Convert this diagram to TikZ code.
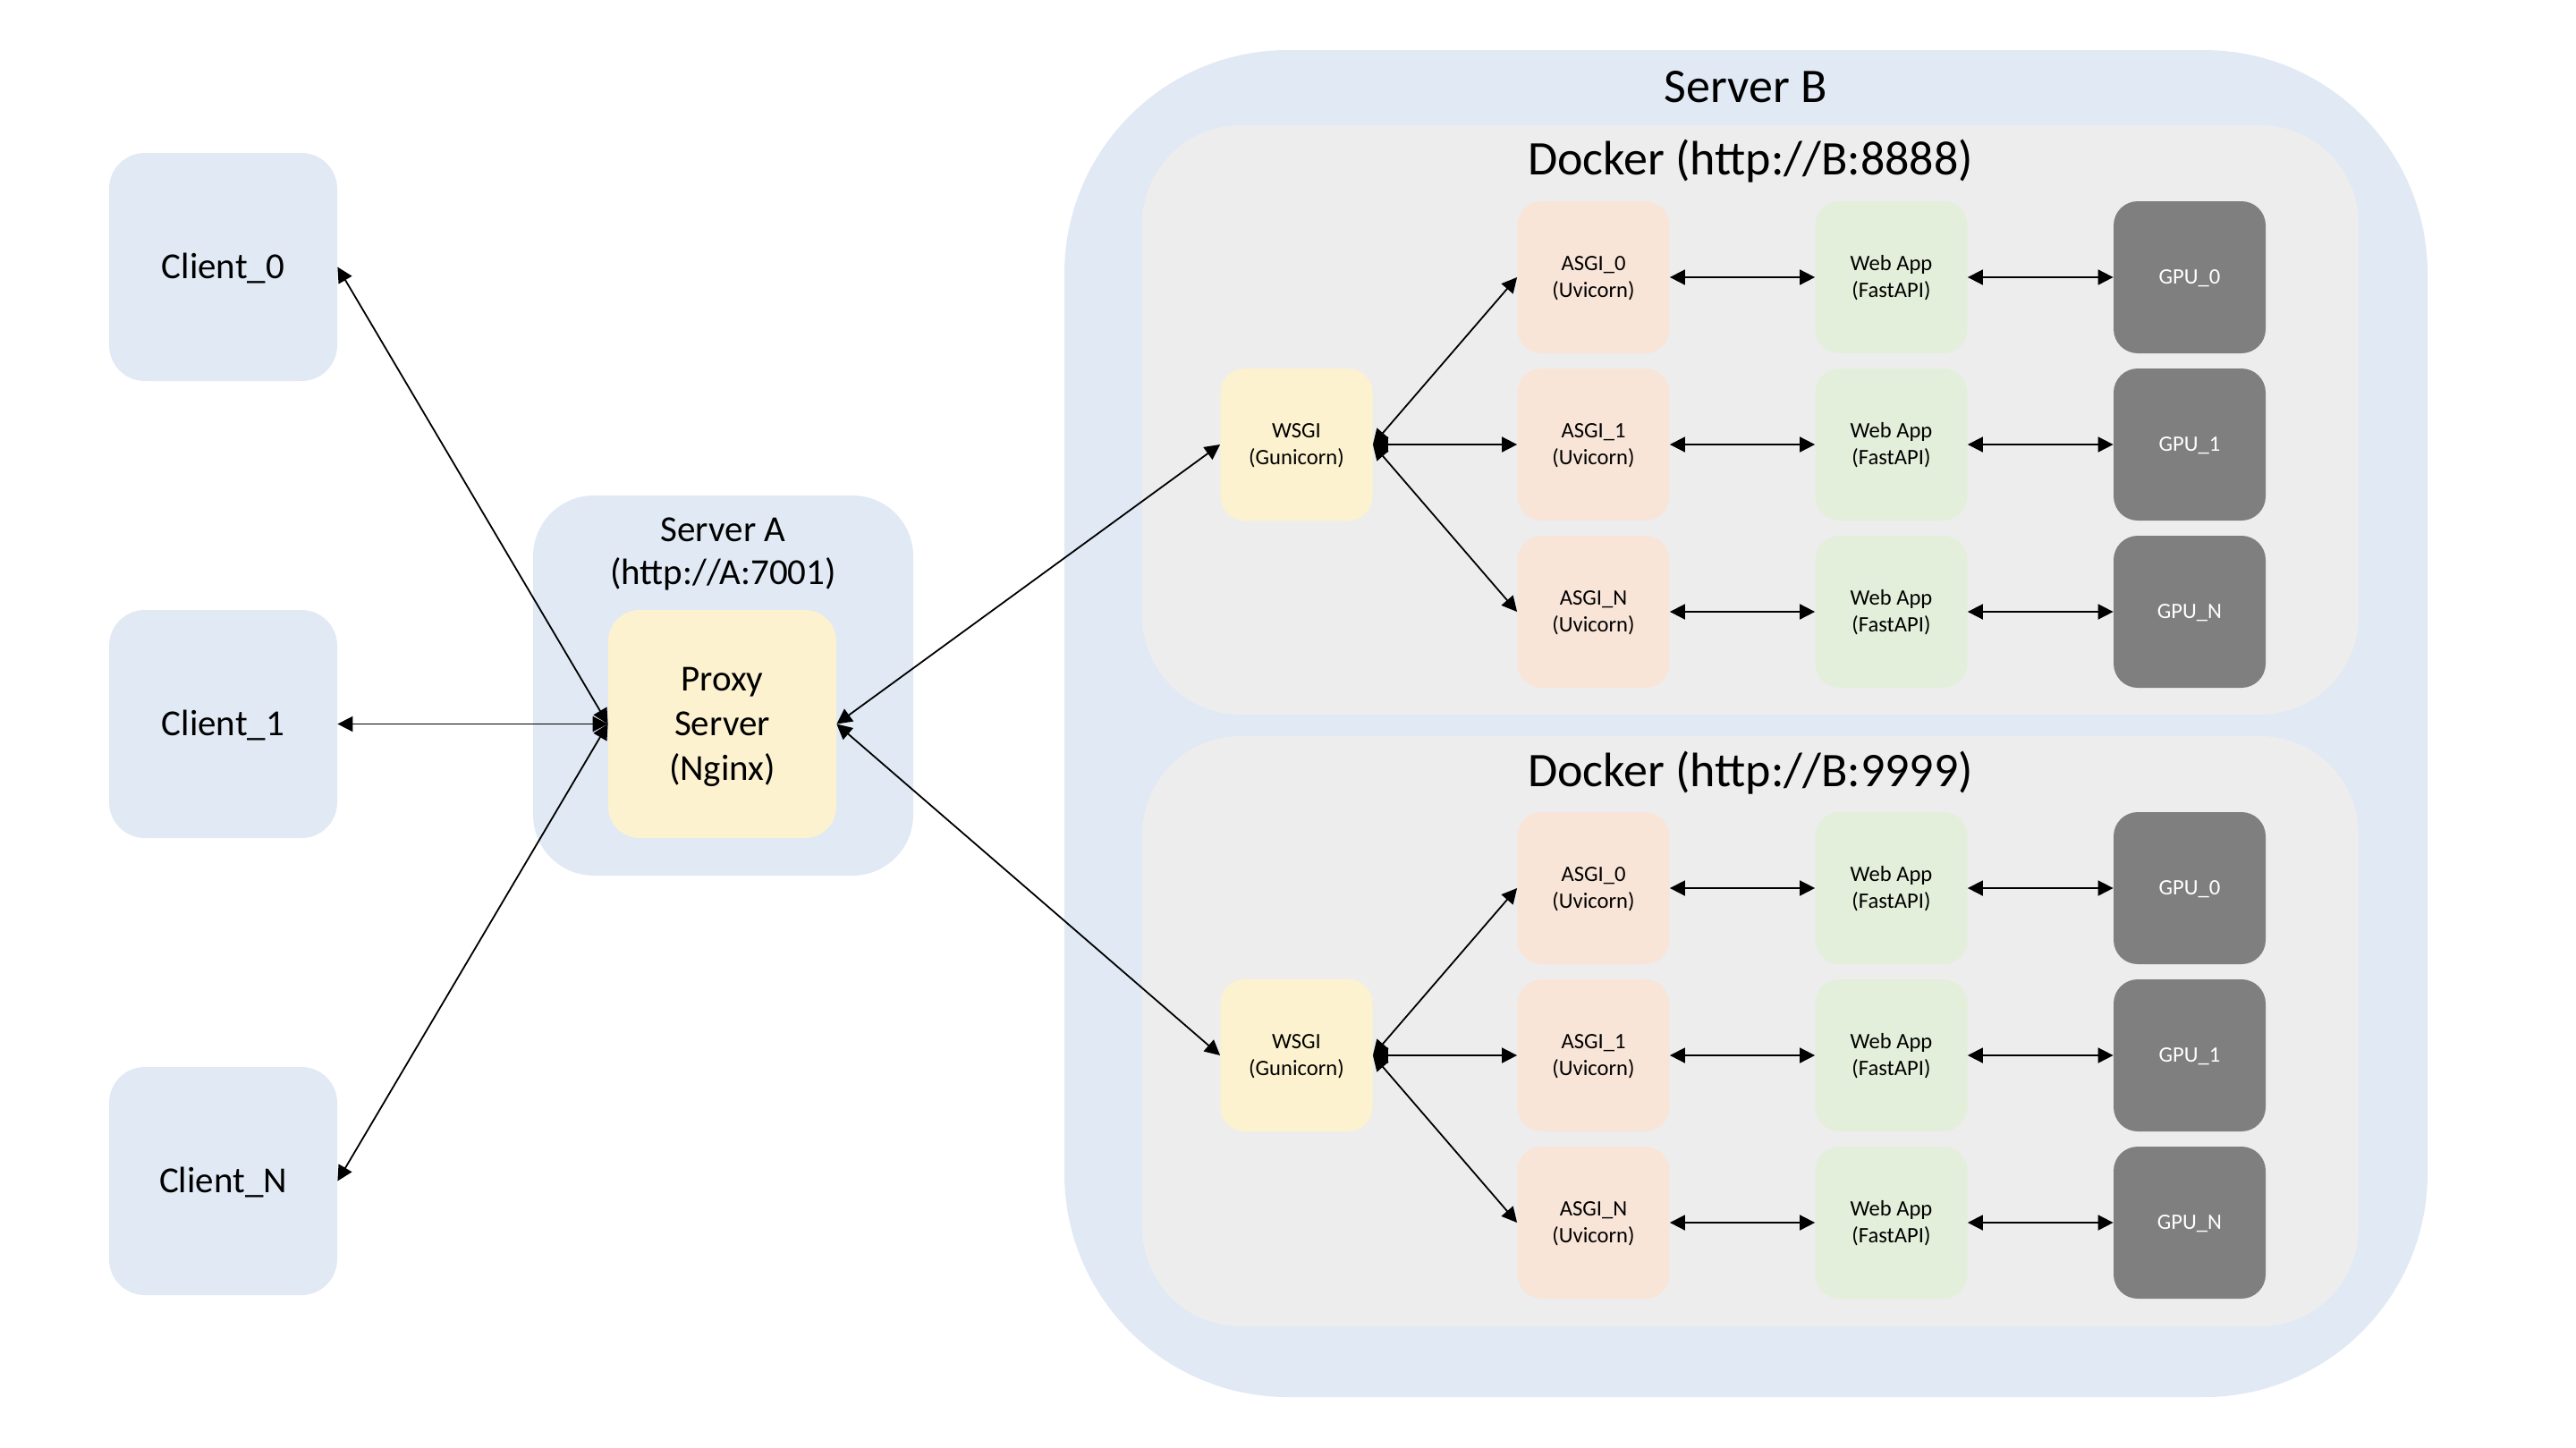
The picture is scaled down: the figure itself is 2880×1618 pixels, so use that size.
\documentclass[tikz,border=0pt]{standalone}
\usepackage{fontspec}
\setmainfont{Carlito}
\usetikzlibrary{arrows.meta}
\definecolor{cblue}{HTML}{E0E9F4}
\definecolor{cgray}{HTML}{EDEDED}
\definecolor{cyel}{HTML}{FDF2CF}
\definecolor{cpeach}{HTML}{F8E5D8}
\definecolor{cgreen}{HTML}{E3EFDA}
\definecolor{cgpu}{HTML}{7F7F7F}
\newcommand{\mystrut}{\rule[-0.28em]{0pt}{1.18em}}
\begin{document}
\begin{tikzpicture}[x=0.5pt,y=-0.5pt,
  bigfont/.style={font=\fontsize{20.5}{25}\selectfont},
  titlefont/.style={font=\fontsize{27}{32}\selectfont},
  smallfont/.style={font=\fontsize{12.3}{15}\selectfont},
  bigbox/.style={rounded corners=20pt, minimum width=127.5pt, minimum height=127.5pt, inner sep=0pt, align=center, bigfont},
  clientbox/.style={bigbox, fill=cblue},
  proxybox/.style={bigbox, fill=cyel, rounded corners=17.5pt},
  smallbox/.style={rounded corners=13.5pt, minimum width=85pt, minimum height=85pt, inner sep=0pt, align=center, smallfont},
  wsgibox/.style={smallbox, fill=cyel},
  asgibox/.style={smallbox, fill=cpeach},
  webbox/.style={smallbox, fill=cgreen},
  gpubox/.style={smallbox, fill=cgpu, text=white},
  conn/.style={{Triangle[length=8.5pt,width=8.5pt]}-{Triangle[length=8.5pt,width=8.5pt]}, line width=0.9pt}
]
\useasboundingbox (0,0) rectangle (2880,1618);
% containers
\fill[cblue, rounded corners=34pt] (596,554) rectangle (1021,979);
\fill[cblue, rounded corners=125pt] (1190,56) rectangle (2714,1562);
\fill[cgray, rounded corners=55pt] (1277,140) rectangle (2637,799);
\fill[cgray, rounded corners=55pt] (1277,823) rectangle (2637,1483);
% titles
\node[bigfont, anchor=base, inner sep=0pt] (tA1) at (808.5,605) {Server A};
\node[bigfont, anchor=base, inner sep=0pt] (tA2) at (808.5,653) {(http://A:7001)};
\node[titlefont, anchor=base, inner sep=0pt] (tB) at (1952,114) {Server B};
\node[titlefont, anchor=base, inner sep=0pt] (tD1) at (1957,195) {Docker (http://B:8888)};
\node[titlefont, anchor=base, inner sep=0pt] (tD2) at (1957,879) {Docker (http://B:9999)};
% clients and proxy
\node[clientbox] (c0) at (249.5,298.5) {\mystrut Client\_0};
\node[clientbox] (c1) at (249.5,809.5) {\mystrut Client\_1};
\node[clientbox] (cN) at (249.5,1320.5) {\mystrut Client\_N};
\node[proxybox] (px) at (807.5,809.5) {\mystrut Proxy\\\mystrut Server\\\mystrut (Nginx)};
\draw[conn] (c0.east) -- (px.west);
\draw[conn] (c1.east) -- (px.west);
\draw[conn] (cN.east) -- (px.west);
% dockers
\foreach \dock/\dy in {1/0, 2/683} {
  \node[wsgibox] (w\dock) at (1449.5,497+\dy) {\mystrut WSGI\\\mystrut (Gunicorn)};
  \draw[conn] (px.east) -- (w\dock.west);
  \foreach \rowi/\lab/\ry in {0/0/310, 1/1/497, 2/N/684} {
    \node[asgibox] (a\dock\rowi) at (1781.5,\ry+\dy) {\mystrut ASGI\_\lab\\\mystrut (Uvicorn)};
    \node[webbox] (b\dock\rowi) at (2114.5,\ry+\dy) {\mystrut Web App\\\mystrut (FastAPI)};
    \node[gpubox] (g\dock\rowi) at (2448,\ry+\dy) {\mystrut GPU\_\lab};
    \draw[conn] (w\dock.east) -- (a\dock\rowi.west);
    \draw[conn] (a\dock\rowi.east) -- (b\dock\rowi.west);
    \draw[conn] (b\dock\rowi.east) -- (g\dock\rowi.west);
  }
}
\end{tikzpicture}
\end{document}
